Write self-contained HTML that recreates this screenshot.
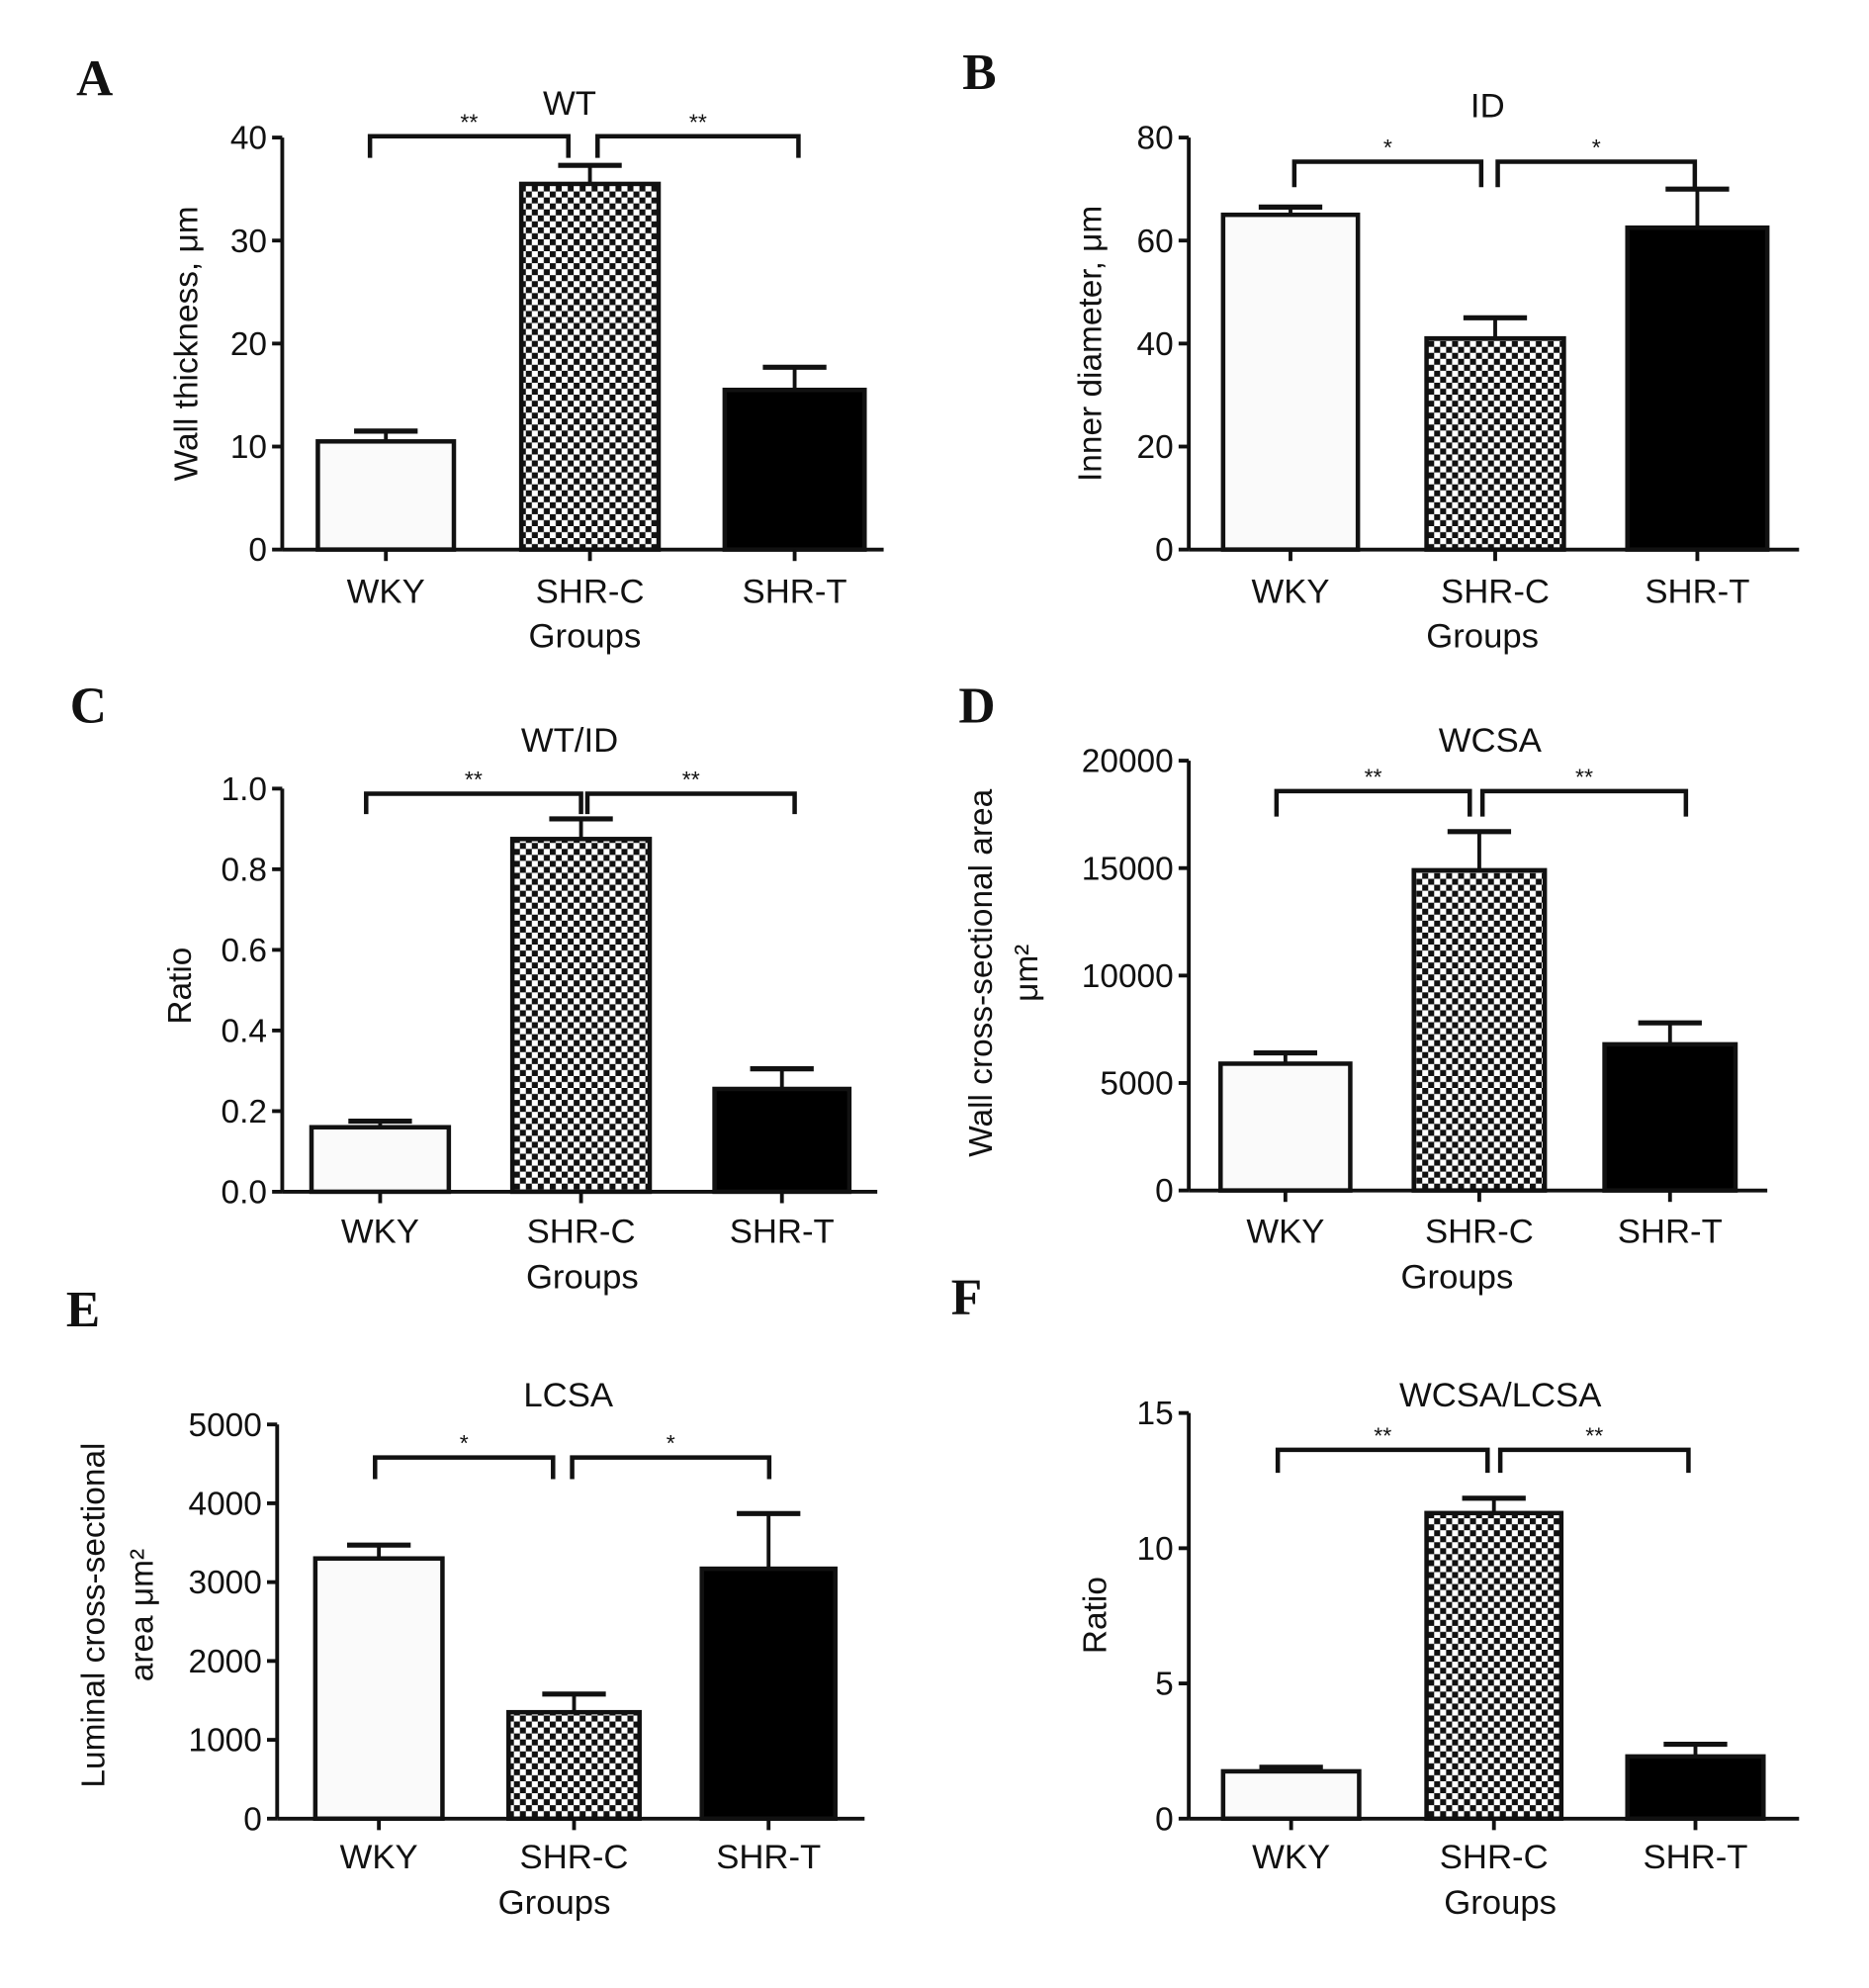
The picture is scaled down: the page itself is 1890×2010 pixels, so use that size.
<!DOCTYPE html>
<html><head><meta charset="utf-8"><style>
html,body{margin:0;padding:0;background:#fff;}
svg{display:block;}
text{font-family:"Liberation Sans",sans-serif;fill:#111;}
.letter{font-family:"Liberation Serif",serif;font-weight:bold;font-size:40px;}
</style></head><body>
<svg id="fig" width="1890" height="2010" viewBox="0 0 1470 1563" xmlns="http://www.w3.org/2000/svg">
<defs>
<pattern id="chk" width="9.4" height="9.4" patternUnits="userSpaceOnUse">
<rect width="9.4" height="9.4" fill="#fff"/><rect width="4.7" height="4.7" fill="#111"/><rect x="4.7" y="4.7" width="4.7" height="4.7" fill="#111"/>
</pattern>
</defs>
</svg>
<script>
const categories = ["WKY","SHR-C","SHR-T"];
const wtMeans = [10.5, 35.5, 15.5];
const wtErrs = [1.0, 1.8, 2.2];
const wtTicks = [0,10,20,30,40];
const idMeans = [65, 41, 62.5];
const idErrs = [1.5, 4, 7.5];
const idTicks = [0,20,40,60,80];
const ratioMeans = [0.16, 0.875, 0.255];
const ratioErrs = [0.015, 0.05, 0.05];
const ratioTicks = ["0.0","0.2","0.4","0.6","0.8","1.0"];
const wcsaMeans = [5900, 14900, 6800];
const wcsaErrs = [500, 1800, 1000];
const wcsaTicks = [0,5000,10000,15000,20000];
const lcsaMeans = [3300, 1350, 3170];
const lcsaErrs = [170, 230, 700];
const lcsaTicks = [0,1000,2000,3000,4000,5000];
const wlMeans = [1.75, 11.3, 2.3];
const wlErrs = [0.15, 0.55, 0.45];
const wlTicks = [0,5,10,15];
const stars = [["**","**"],["*","*"],["**","**"],["**","**"],["*","*"],["**","**"]];

const NS="http://www.w3.org/2000/svg";
const svg=document.getElementById('fig');
function mk(tag,attrs,parent){const e=document.createElementNS(NS,tag);for(const k in attrs)e.setAttribute(k,attrs[k]);(parent||svg).appendChild(e);return e;}
function txt(s,x,y,size,anchor,parent,extra){const t=mk('text',Object.assign({x:x,y:y,'font-size':size,'text-anchor':anchor||'middle'},extra||{}),parent);t.textContent=s;return t;}

const panels=[
 {id:'a',letter:'A',lx:60,ly:75,means:wtMeans,errs:wtErrs,ticks:wtTicks,max:40,ax:222,y0:432,ytop:108,xend:695,bars:[[250,357],[410,518],[570,680]],title:'WT',tx:448,ty:90,br:[107,124,291,447,470,628],ytitle:['Wall thickness, μm'],ytx:[155],yty:270,gx:460,labY:474,grpY:509},
 {id:'b',letter:'B',lx:757,ly:70,means:idMeans,errs:idErrs,ticks:idTicks,max:80,ax:935,y0:432,ytop:108,xend:1415,bars:[[962,1068],[1122,1230],[1280,1390]],title:'ID',tx:1170,ty:92,br:[127,147,1018,1165,1178,1333],ytitle:['Inner diameter, μm'],ytx:[866],yty:270,gx:1166,labY:474,grpY:509},
 {id:'c',letter:'C',lx:55,ly:568,means:ratioMeans,errs:ratioErrs,ticks:ratioTicks,max:1.0,ax:222,y0:937,ytop:620,xend:690,bars:[[245,353],[403,511],[562,668]],title:'WT/ID',tx:448,ty:591,br:[624,640,288,457,462,625],ytitle:['Ratio'],ytx:[150],yty:775,gx:458,labY:977,grpY:1013},
 {id:'d',letter:'D',lx:754,ly:568,means:wcsaMeans,errs:wcsaErrs,ticks:wcsaTicks,max:20000,ax:935,y0:936,ytop:598,xend:1390,bars:[[960,1062],[1112,1215],[1262,1365]],title:'WCSA',tx:1172,ty:591,br:[622,642,1004,1156,1166,1326],ytitle:['Wall cross-sectional area','μm²'],ytx:[780,816],yty:765,gx:1146,labY:977,grpY:1013},
 {id:'e',letter:'E',lx:52,ly:1043,means:lcsaMeans,errs:lcsaErrs,ticks:lcsaTicks,max:5000,ax:218,y0:1430,ytop:1120,xend:680,bars:[[248,348],[400,503],[552,657]],title:'LCSA',tx:447,ty:1106,br:[1146,1163,295,435,450,605],ytitle:['Luminal cross-sectional','area μm²'],ytx:[82,120],yty:1270,gx:436,labY:1469,grpY:1505},
 {id:'f',letter:'F',lx:748,ly:1033,means:wlMeans,errs:wlErrs,ticks:wlTicks,max:15,ax:935,y0:1430,ytop:1111,xend:1415,bars:[[962,1069],[1122,1228],[1280,1387]],title:'WCSA/LCSA',tx:1180,ty:1106,br:[1140,1158,1005,1170,1180,1328],ytitle:['Ratio'],ytx:[870],yty:1270,gx:1180,labY:1469,grpY:1505}
];
const fills=['#fafafa','url(#chk)','#000'];

panels.forEach((p,pi)=>{
 const g=mk('g',{});
 
 
 const yScale=v=>p.y0-(v/p.max)*(p.y0-p.ytop);
 const L=txt(p.letter,p.lx,p.ly,38,'start',g,{class:'letter'});
 
 
 const T=txt(p.title,p.tx,p.ty,27,'middle',g);
 
 
 // y axis
 const ya=mk('line',{x1:p.ax,y1:p.ytop,x2:p.ax,y2:p.y0,stroke:'#111','stroke-width':3},g);
 
 
 p.ticks.forEach(t=>{const y=yScale(parseFloat(t));
  mk('line',{x1:p.ax-8,y1:y,x2:p.ax,y2:y,stroke:'#111','stroke-width':3},g);
  const tl=txt(String(t),p.ax-12,y+9,26,'end',g);
  
  
 });
 const xa=mk('line',{x1:p.ax,y1:p.y0,x2:p.xend,y2:p.y0,stroke:'#111','stroke-width':3},g);
 
 
 // y title
 p.ytitle.forEach((s,i)=>{
  const yt=txt(s,p.ytx[i],p.yty,26,'middle',g,{transform:'rotate(-90 '+p.ytx[i]+' '+p.yty+')'});
  
  
 });
 // bars
 categories.forEach((c,i)=>{
  const [x1,x2]=p.bars[i];const cx=(x1+x2)/2;const yt=yScale(p.means[i]);const ye=yScale(p.means[i]+p.errs[i]);
  mk('line',{x1:cx,y1:yt,x2:cx,y2:ye,stroke:'#111','stroke-width':3},g);
  mk('line',{x1:cx-25,y1:ye,x2:cx+25,y2:ye,stroke:'#111','stroke-width':4},g);
  const b=mk('rect',{x:x1,y:yt,width:x2-x1,height:p.y0-yt,fill:fills[i],stroke:'#111','stroke-width':3.5},g);
  
  
  mk('line',{x1:cx,y1:p.y0,x2:cx,y2:p.y0+9,stroke:'#111','stroke-width':3},g);
  const cl=txt(c,cx,p.labY,27,'middle',g);
  
  
 });
 const gr=txt('Groups',p.gx,p.grpY,27,'middle',g);
 
 
 // brackets
 const [by,bd,a1,a2,b1,b2]=p.br;
 [[a1,a2,0],[b1,b2,1]].forEach(([u,v,k])=>{
  const pth=mk('path',{d:`M${u},${bd} V${by} H${v} V${bd}`,fill:'none',stroke:'#111','stroke-width':3.5},g);
  
  
  const st=txt(stars[pi][k],(u+v)/2,by-5,18,'middle',g);
  
  
 });
});
</script>
</body></html>
